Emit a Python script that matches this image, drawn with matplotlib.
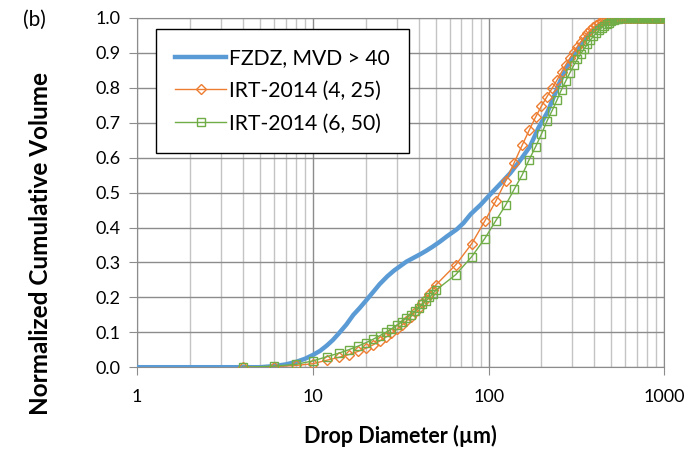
import numpy as np
import matplotlib.pyplot as plt
from matplotlib.ticker import LogLocator, NullFormatter, FixedLocator

# FZDZ, MVD > 40 (smooth curve)
fzdz_d = [1, 3, 5, 6, 7, 8, 9, 10, 11, 12, 13, 14, 15.5, 17, 18.5, 20, 22, 24, 26.5, 29, 31.5, 34, 37,
          41, 44, 48, 53, 58, 66, 72, 79, 90, 100, 115, 133, 150, 172, 192, 216, 234, 255, 279, 305,
          333, 365, 400, 440, 500, 560, 650, 1000]
fzdz_v = [0.0, 0.0, 0.0, 0.003, 0.008, 0.015, 0.024, 0.035, 0.047, 0.062, 0.078, 0.096, 0.122, 0.15,
          0.17, 0.19, 0.215, 0.238, 0.26, 0.277, 0.29, 0.302, 0.312, 0.324, 0.333, 0.345, 0.36, 0.375,
          0.395, 0.413, 0.438, 0.465, 0.49, 0.522, 0.556, 0.59, 0.632, 0.685, 0.73, 0.772, 0.818,
          0.86, 0.893, 0.922, 0.948, 0.968, 0.985, 0.996, 1.0, 1.0, 1.0]

# IRT-2014 bins (um)
irt_d = [4, 6, 8, 10, 12, 14, 16, 18, 20, 22, 24, 26, 28, 30, 32, 34, 36, 38, 40, 42, 44, 46, 48, 50,
         65, 80, 95, 110, 125, 140, 155, 170, 185, 200, 215, 230, 245, 260, 275, 290, 305, 320, 335,
         350, 365, 380, 395, 410, 425, 440, 455, 470, 485, 500, 515, 530, 545, 560, 575, 590, 605,
         620, 635, 650, 665, 680, 695, 710, 725, 740, 755, 770, 785, 800, 815, 830, 845, 860, 875,
         890, 905, 920, 935, 950, 965, 980]

irt_4_25 = [0.0, 0.002, 0.005, 0.01, 0.02, 0.028, 0.036, 0.045, 0.054, 0.064, 0.075, 0.086, 0.097,
            0.108, 0.12, 0.132, 0.144, 0.157, 0.17, 0.183, 0.196, 0.209, 0.222, 0.235,
            0.293, 0.353, 0.418, 0.476, 0.533, 0.586, 0.635, 0.678, 0.716, 0.748, 0.775, 0.799,
            0.822, 0.845, 0.866, 0.885, 0.902, 0.918, 0.932, 0.945, 0.956, 0.965, 0.973, 0.98,
            0.986, 0.99, 0.993, 0.996, 0.998, 1.0,
            1.0, 1.0, 1.0, 1.0, 1.0, 1.0, 1.0, 1.0, 1.0, 1.0, 1.0, 1.0, 1.0, 1.0, 1.0, 1.0,
            1.0, 1.0, 1.0, 1.0, 1.0, 1.0, 1.0, 1.0, 1.0, 1.0, 1.0, 1.0, 1.0, 1.0, 1.0, 1.0]

irt_6_50 = [0.0, 0.003, 0.008, 0.018, 0.03, 0.04, 0.05, 0.06, 0.07, 0.08, 0.09, 0.1, 0.11, 0.12,
            0.13, 0.14, 0.15, 0.16, 0.17, 0.18, 0.19, 0.2, 0.21, 0.22,
            0.265, 0.316, 0.368, 0.42, 0.464, 0.51, 0.55, 0.594, 0.631, 0.668, 0.705, 0.735, 0.765,
            0.795, 0.82, 0.843, 0.864, 0.882, 0.898, 0.912, 0.925, 0.937, 0.948, 0.957, 0.965,
            0.972, 0.978, 0.983, 0.987, 0.991, 0.994, 0.996, 0.998, 0.999, 0.9995,
            1.0, 1.0, 1.0, 1.0, 1.0, 1.0, 1.0, 1.0, 1.0, 1.0, 1.0, 1.0, 1.0, 1.0, 1.0, 1.0,
            1.0, 1.0, 1.0, 1.0, 1.0, 1.0, 1.0, 1.0, 1.0, 1.0, 1.0]

assert len(irt_d) == len(irt_4_25) == len(irt_6_50)

plt.rcParams['font.family'] = ['Lato', 'DejaVu Sans']

fig = plt.figure(figsize=(7, 4.5), dpi=100)
ax = fig.add_axes([0.196, 0.184, 0.753, 0.776])

ax.plot(fzdz_d, fzdz_v, color='#5B9BD5', lw=3.2, label='FZDZ, MVD > 40', zorder=3)
ax.plot(irt_d, irt_4_25, color='#ED7D31', lw=1.0, marker='D', ms=5, mfc='none', mew=1.0,
        label='IRT-2014 (4, 25)', zorder=4)
ax.plot(irt_d, irt_6_50, color='#70AD47', lw=1.0, marker='s', ms=6, mfc='none', mew=1.0,
        label='IRT-2014 (6, 50)', zorder=5)

ax.set_xscale('log')
ax.set_xlim(1, 1000)
ax.set_ylim(0, 1.0)
ax.xaxis.set_major_locator(FixedLocator([1, 10, 100, 1000]))
ax.set_xticklabels(['1', '10', '100', '1000'])
ax.xaxis.set_minor_locator(LogLocator(base=10, subs=np.arange(2, 10)))
ax.xaxis.set_minor_formatter(NullFormatter())
ax.set_yticks(np.arange(0, 1.01, 0.1))
ax.set_yticklabels(['%.1f' % v for v in np.arange(0, 1.01, 0.1)])

ax.grid(True, which='major', color='#8c8c8c', lw=1.0)
ax.grid(True, which='minor', axis='x', color='#c4c4c4', lw=1.0)
ax.set_axisbelow(True)
ax.tick_params(axis='both', which='major', direction='out', length=6, color='#8c8c8c',
               labelsize=13, pad=6)
ax.tick_params(axis='x', which='minor', length=0)
ax.tick_params(axis='x', which='major', pad=10)
for s in ax.spines.values():
    s.set_color('#8c8c8c')

ax.set_xlabel('Drop Diameter (µm)', fontsize=15.5, fontweight='bold', labelpad=14)
ax.set_ylabel('Normalized Cumulative Volume', fontsize=17.5, fontweight='bold')
# label sits a bit lower than the axes centre in the original
ax.yaxis.set_label_coords(-0.161, 0.355)
fig.text(0.033, 0.956, '(b)', fontsize=15, ha='left', va='center')

leg = ax.legend(loc='upper left', bbox_to_anchor=(0.036, 0.968), fontsize=15.2, frameon=True,
                fancybox=False, edgecolor='black', framealpha=1, handlelength=2.4,
                borderpad=0.9, borderaxespad=0, labelspacing=0.6, handletextpad=0.15)
leg.get_frame().set_linewidth(1.0)

fig.savefig('out.png', dpi=100)
